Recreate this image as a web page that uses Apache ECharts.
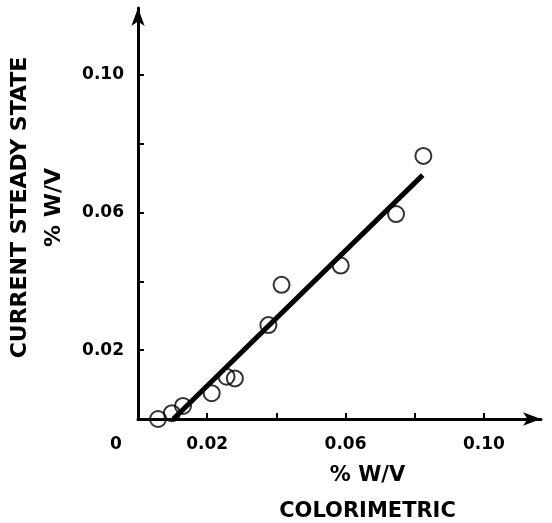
<!DOCTYPE html>
<html>
<head>
<meta charset="utf-8">
<script src="https://cdn.jsdelivr.net/npm/echarts@6/dist/echarts.min.js"></script>
<style>
  html, body { margin: 0; padding: 0; background: #fff; }
  #chart { width: 552px; height: 523px; }
</style>
</head>
<body>
<div id="chart"></div>
<script>
// measured points: [colorimetric, current steady state] (% w/v)
const colorimetric = [0.0058, 0.0098, 0.0130, 0.0213, 0.0256, 0.0280, 0.0377, 0.0415, 0.0586, 0.0746, 0.0825];
const steadyState  = [0.0000, 0.0017, 0.0038, 0.0075, 0.0123, 0.0118, 0.0273, 0.0390, 0.0446, 0.0596, 0.0765];
// fitted line end points
const fitX = [0.0102, 0.0823];
const fitY = [0.0000, 0.0709];
const xTickLabels = ['0', '0.02', '0.06', '0.10'];
const yTickLabels = ['0.02', '0.06', '0.10'];

const font = 'DejaVu Sans';
const mychart = echarts.init(document.getElementById('chart'));

function fmt(v) {
  return v === 0 ? '0' : v.toFixed(2);
}

const option = {
  animation: false,
  grid: {
    left: 138,
    right: 11,
    top: 8,
    bottom: 104,
    containLabel: false,
    outerBoundsMode: 'none'
  },
  xAxis: {
    type: 'value',
    min: 0,
    max: 0.1165,
    interval: 0.02,
    name: '% W/V\nCOLORIMETRIC',
    nameLocation: 'middle',
    nameGap: 39,
    nameTextStyle: {
      color: '#000',
      fontFamily: font,
      fontWeight: 'bold',
      fontSize: 21,
      lineHeight: 36,
      padding: [0, 0, 0, 56]
    },
    axisLine: {
      lineStyle: { color: '#000', width: 3 },
      symbol: ['none', 'arrow'],
      symbolSize: [10, 18]
    },
    axisTick: { inside: true, length: 6, lineStyle: { color: '#000', width: 2 } },
    splitLine: { show: false },
    axisLabel: {
      margin: 17,
      color: '#000',
      fontFamily: font,
      fontWeight: 'bold',
      fontSize: 17,
      showMaxLabel: false,
      formatter: function (v) {
        const s = fmt(v);
        if (xTickLabels.indexOf(s) < 0) return '';
        return s === '0' ? '{z|0}' : s;
      },
      rich: {
        z: {
          color: '#000',
          fontFamily: font,
          fontWeight: 'bold',
          fontSize: 17,
          padding: [0, 44, 0, 0]
        }
      }
    }
  },
  yAxis: {
    type: 'value',
    min: 0,
    max: 0.1195,
    interval: 0.02,
    name: 'CURRENT STEADY STATE\n% W/V',
    nameLocation: 'middle',
    nameRotate: 90,
    nameGap: 64,
    nameTextStyle: {
      color: '#000',
      fontFamily: font,
      fontWeight: 'bold',
      fontSize: 22,
      lineHeight: 34,
      padding: [0, 0, 0, 12]
    },
    axisLine: {
      lineStyle: { color: '#000', width: 3 },
      symbol: ['none', 'arrow'],
      symbolSize: [10, 18]
    },
    axisTick: { inside: true, length: 6, lineStyle: { color: '#000', width: 2 } },
    splitLine: { show: false },
    axisLabel: {
      margin: 14,
      color: '#000',
      fontFamily: font,
      fontWeight: 'bold',
      fontSize: 17,
      showMaxLabel: false,
      formatter: function (v) {
        const s = fmt(v);
        return yTickLabels.indexOf(s) < 0 ? '' : s;
      }
    }
  },
  series: [
    {
      type: 'scatter',
      symbol: 'circle',
      symbolSize: 16,
      itemStyle: { color: 'rgba(0,0,0,0)', borderColor: '#000', borderWidth: 2 },
      data: colorimetric.map((x, i) => [x, steadyState[i]]),
      z: 2
    },
    {
      type: 'line',
      showSymbol: false,
      lineStyle: { color: '#000', width: 5 },
      data: fitX.map((x, i) => [x, fitY[i]]),
      z: 3
    }
  ]
};

mychart.setOption(option);
</script>
</body>
</html>
